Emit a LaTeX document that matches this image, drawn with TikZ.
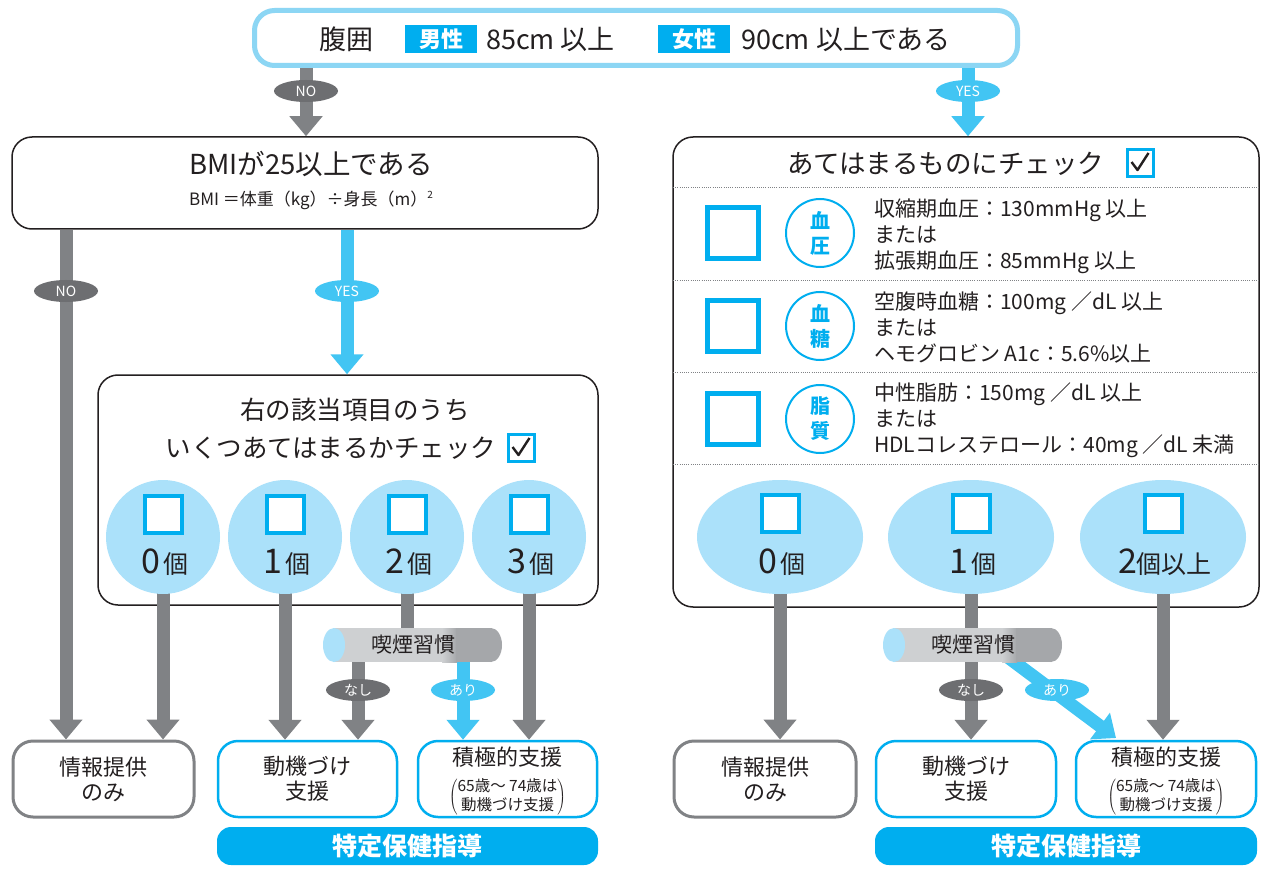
\documentclass[tikz,border=0pt]{standalone}
\usepackage{fontspec}
\setmainfont{Noto Sans CJK JP}
\usetikzlibrary{arrows.meta,shapes.geometric,calc}
\definecolor{txt}{RGB}{35,31,32}
\definecolor{gr}{RGB}{128,130,133}
\definecolor{dgr}{RGB}{109,110,113}
\definecolor{aqua}{RGB}{66,197,243}
\definecolor{cy}{RGB}{0,174,239}
\definecolor{lb}{RGB}{171,225,250}
\definecolor{topb}{RGB}{140,214,244}
\definecolor{cylL}{RGB}{206,208,210}
\definecolor{cylD}{RGB}{165,167,170}
\newcommand{\jfs}[1]{\fontsize{#1}{#1}\selectfont}
\newcommand{\jfsl}[2]{\fontsize{#1}{#2}\selectfont}
\newcommand{\checkin}[1]{\draw[txt, line width=2.4pt, line join=round] ($(#1.center)+(-9,-1)$) -- ($(#1.center)+(-3,7)$) -- ($(#1.center)+(8,-10)$);}
\newcommand{\parennote}{$\left(\vcenter{\hbox{\jfsl{15.5}{17}\begin{tabular}{@{}c@{}}65歳〜 74歳は\\動機づけ支援\end{tabular}}}\right)$}
\newcommand{\smokecyl}[2]{%
  \fill[cylD] (#1+168,645) ellipse [x radius=11, y radius=17];
  \fill[cylL] (#1+11,628) rectangle (#1+120,662);
  \shade[left color=cylL, right color=cylD] (#1+119,628) rectangle (#1+134,662);
  \fill[cylD] (#1+133,628) rectangle (#1+168.5,662);
  \fill[lb] (#1+11,645) ellipse [x radius=11, y radius=17];
  \node[minimum width=179pt, minimum height=34pt] (#2) at (#1+89.5,645) {};
  \node[font=\jfs{21}] (#2t) at ($(#2.center)+(1,0)$) {喫煙習慣};
}
\pgfdeclarelayer{paper}
\pgfdeclarelayer{boxes}
\pgfdeclarelayer{links}
\pgfsetlayers{paper,boxes,links,main}
\tikzset{
  every node/.style={text=txt, inner sep=0pt},
  bigbox/.style={draw=txt, line width=1.5pt, rounded corners=20pt, fill=white},
  infobox/.style={draw=gr, line width=3pt, rounded corners=20pt, fill=white, minimum height=76pt, align=center, font=\jfsl{22}{25}},
  cybox/.style={draw=cy, line width=2.5pt, rounded corners=20pt, fill=white, minimum height=76pt, align=center, font=\jfsl{22}{25}},
  tokubar/.style={fill=cy, rounded corners=14pt, minimum height=38pt, text=white, font=\bfseries\jfs{25}},
  gar/.style={draw=gr, line width=13pt, -{Triangle[width=32pt,length=20pt]}},
  car/.style={draw=aqua, line width=13pt, -{Triangle[width=32pt,length=20pt]}},
  gbar/.style={draw=gr, line width=13pt},
  nolab/.style={ellipse, fill=dgr, text=white, minimum width=64pt, minimum height=22pt, font=\jfs{14}},
  yeslab/.style={nolab, fill=aqua},
  circ/.style={circle, fill=lb, minimum size=114pt},
  ell/.style={ellipse, fill=lb, minimum width=166pt, minimum height=114pt},
  sqbox/.style={draw=cy, line width=4pt, fill=white, minimum size=37pt},
  rowsq/.style={draw=cy, line width=4.5pt, fill=white, minimum size=51pt},
  badge/.style={circle, draw=cy, line width=2pt, fill=white, minimum size=68pt, text=cy, align=center, font=\bfseries\jfsl{20}{25}},
  ckbox/.style={draw=cy, line width=2.5pt, fill=white, minimum width=26pt, minimum height=27pt},
  sep/.style={draw=gr, line width=0.8pt, dash pattern=on 1pt off 1.2pt},
  tag/.style={fill=cy, text=white, font=\bfseries\jfs{22}, minimum width=72pt, minimum height=28pt},
  rowtxt/.style={anchor=west, align=left, font=\jfsl{21}{26}},
}
\begin{document}
\begin{tikzpicture}[x=1pt,y=-1pt]
\useasboundingbox (0,0) rectangle (1271,877);
\begin{pgfonlayer}{paper}
\fill[white] (0,0) rectangle (1271,877);
\end{pgfonlayer}
\coordinate (xTN) at (306,0);
\coordinate (xTY) at (968,0);
\coordinate (xBN) at (66,0);
\coordinate (xBY) at (347,0);
\coordinate (xLN) at (358,0);
\coordinate (xLA) at (463,0);
\coordinate (arS) at (1005,655);
\coordinate (arT) at (1116,738);

\begin{pgfonlayer}{boxes}
\node[draw=topb, line width=5pt, rounded corners=20pt, fill=white, minimum width=763pt, minimum height=55pt] (top) at (636,38) {};
\node[bigbox, minimum width=586pt, minimum height=92pt] (bmi) at (305,183) {};
\node[bigbox, minimum width=500pt, minimum height=230pt] (mid) at (348,490) {};
\node[bigbox, minimum width=586pt, minimum height=470pt] (chk) at (966,372) {};
\node[infobox, minimum width=181pt] (info1) at (103.5,779) {情報提供\\のみ};
\node[cybox, minimum width=179pt] (dou1) at (307.5,779) {動機づけ\\支援};
\node[cybox, minimum width=179pt] (sek1) at (507.5,779) {};
\node[tokubar, minimum width=381pt] (toku1) at (407.5,846) {特定保健指導};
\node[infobox, minimum width=182pt] (info2) at (765,779) {情報提供\\のみ};
\node[cybox, minimum width=180pt] (dou2) at (966,779) {動機づけ\\支援};
\node[cybox, minimum width=180pt] (sek2) at (1166,779) {};
\node[tokubar, minimum width=382pt] (toku2) at (1066,846) {特定保健指導};
\draw[sep] (673,187) -- (1259,187);
\draw[sep] (673,280) -- (1259,280);
\draw[sep] (673,372) -- (1259,372);
\draw[sep] (673,464) -- (1259,464);
\end{pgfonlayer}

% top text
\node[font=\jfs{27}] (t1) at (346,39) {腹囲};
\node[tag] (t2) at (441,39) {男性};
\node[font=\jfs{27}, anchor=west] (t3) at (486,39) {85cm 以上};
\node[tag] (t4) at (694,39) {女性};
\node[font=\jfs{27}, anchor=west] (t5) at (741,39) {90cm 以上である};

% BMI text
\node[font=\jfs{27.5}] (b1) at (311,164) {BMIが25以上である};
\node[font=\jfs{17}] (b2) at (311,200) {BMI ＝体重（kg）÷身長（m）\raisebox{7pt}{\jfs{10}2}};

% mid box text
\node[font=\jfs{25.5}] (q1) at (355,410) {右の該当項目のうち};
\node[font=\jfs{25.5}] (q2) at (331,448) {いくつあてはまるかチェック};
\node[ckbox] (ck1) at (521.5,448) {};
\checkin{ck1}

% circles
\foreach \i/\x in {0/163,1/285,2/407,3/529}{
  \node[circ] (c\i) at (\x,537) {};
  \node[sqbox] (cs\i) at (\x,514) {};
  \node (ct\i) at (\x+2,562) {\jfs{34}\i\hspace{4pt}\jfs{25}個};
}

% right header
\node[font=\jfs{26.5}] (h2) at (946,164) {あてはまるものにチェック};
\node[ckbox] (ck2) at (1140.5,163) {};
\checkin{ck2}

% rows
\node[rowsq] (s1) at (733,233) {};
\node[badge] (g1) at (820,233) {血\\圧};
\node[rowtxt] (r1) at (874,236) {収縮期血圧：130mmHg 以上\\または\\拡張期血圧：85mmHg 以上};
\node[rowsq] (s2) at (733,326) {};
\node[badge] (g2) at (820,326) {血\\糖};
\node[rowtxt] (r2) at (874,327) {空腹時血糖：100mg ／dL 以上\\または\\ヘモグロビン A1c：5.6\%以上};
\node[rowsq] (s3) at (733,419) {};
\node[badge] (g3) at (820,419) {脂\\質};
\node[rowtxt] (r3) at (874,420) {中性脂肪：150mg ／dL 以上\\または\\HDLコレステロール：40mg ／dL 未満};

% ellipses
\node[ell] (e0) at (780,537) {};
\node[sqbox] (es0) at (780,513) {};
\node (et0) at (782,562) {\jfs{34}0\hspace{4pt}\jfs{25}個};
\node[ell] (e1) at (971,537) {};
\node[sqbox] (es1) at (971,513) {};
\node (et1) at (973,562) {\jfs{34}1\hspace{4pt}\jfs{25}個};
\node[ell] (e2) at (1163,537) {};
\node[sqbox] (es2) at (1163,513) {};
\node (et2) at (1165,562) {\jfs{34}2\jfs{25}個以上};

% cylinders
\smokecyl{323}{cyl1}
\smokecyl{883}{cyl2}

% sekkyoku text
\node[font=\jfs{22}] (sk1a) at (507.5,757) {積極的支援};
\node (sk1b) at (507.5,797) {\parennote};
\node[font=\jfs{22}] (sk2a) at (1166,757) {積極的支援};
\node (sk2b) at (1166,797) {\parennote};

% connectors
\begin{pgfonlayer}{links}
\draw[gar] (top.south -| xTN) -- (bmi.north -| xTN);
\draw[car] (top.south -| xTY) -- (chk.north -| xTY);
\draw[gar] (bmi.south -| xBN) -- (info1.north -| xBN);
\draw[car] (bmi.south -| xBY) -- (mid.north -| xBY);
\draw[gar] (c0.center) -- (info1.north -| c0);
\draw[gar] (c1.center) -- (dou1.north -| c1);
\draw[gbar] (c2.center) -- (cyl1.center -| c2);
\draw[gar] (c3.center) -- (sek1.north -| c3);
\draw[gar] (cyl1.center -| xLN) -- (dou1.north -| xLN);
\draw[car] (cyl1.center -| xLA) -- (sek1.north -| xLA);
\draw[gar] (e0.center) -- (info2.north -| e0);
\draw[gbar] (e1.center) -- (cyl2.center -| e1);
\draw[gar] (cyl2.center -| e1) -- (dou2.north -| e1);
\draw[car] (arS) -- (arT);
\draw[gar] (e2.center) -- (sek2.north -| e2);
\end{pgfonlayer}

% labels
\node[nolab] (n1) at (306,91) {NO};
\node[yeslab] (y1) at (968,91) {YES};
\node[nolab] (n2) at (66,291) {NO};
\node[yeslab] (y2) at (347,291) {YES};
\node[nolab] (n3) at (358,690) {なし};
\node[yeslab] (y3) at (463,690) {あり};
\node[nolab] (n4) at (971,690) {なし};
\node[yeslab] (y4) at (1057,690) {あり};
\end{tikzpicture}
\end{document}
